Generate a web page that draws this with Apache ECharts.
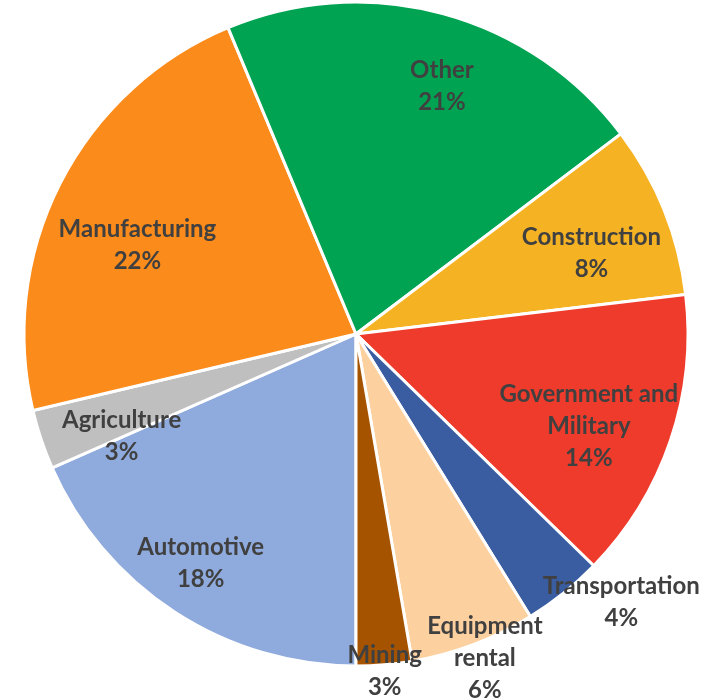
<!DOCTYPE html>
<html>
<head>
<meta charset="utf-8">
<script src="https://cdn.jsdelivr.net/npm/echarts@6/dist/echarts.min.js"></script>
<style>
  html, body { margin: 0; padding: 0; background: #fff; }
  #chart { width: 723px; height: 698px; }
</style>
</head>
<body>
<div id="chart"></div>
<script>
// slices in drawing order, clockwise from the bottom
const categories = ["Automotive", "Agriculture", "Manufacturing", "Other", "Construction",
  "Government and\nMilitary", "Transportation", "Equipment\nrental", "Mining"];
const shares = [18.4, 2.9, 22.4, 21.0, 8.4, 14.2, 3.9, 6.1, 2.7];
const colors = ["#8FAADC", "#BFBFBF", "#FB8B1A", "#00A352", "#F5B324",
  "#EE3B2B", "#3A5DA2", "#FDD09F", "#A65300"];

// label placement: fraction of radius, and angle tweak (deg) from the slice middle
const labelPlace = [
  [0.834, -1], [0.77, 5], [0.71, 5], [0.79, -4], [0.75, -3],
  [0.755, -3], [1.136, 6], [1.05, 1], [1.02, 0],
];

const CX = 356, CY = 334, R = 332, START = -90;

const total = shares.reduce((a, b) => a + b, 0);
const midAngles = [];
let acc = 0;
shares.forEach(v => {
  const a0 = START - acc / total * 360;
  acc += v;
  const a1 = START - acc / total * 360;
  midAngles.push((a0 + a1) / 2);
});

const chart = echarts.init(document.getElementById("chart"));

chart.setOption({
  animation: false,
  series: [{
    type: "pie",
    center: [CX, CY],
    radius: R,
    startAngle: START,
    clockwise: true,
    avoidLabelOverlap: false,
    silent: true,
    itemStyle: { borderColor: "#fff", borderWidth: 3 },
    label: {
      position: "inside",
      formatter: p => p.name + "\n" + Math.round(p.percent) + "%",
      color: "#404040",
      fontFamily: "Lato",
      fontWeight: "bold",
      fontSize: 24,
      lineHeight: 32,
      align: "center",
    },
    labelLine: { show: false },
    labelLayout: p => {
      const [k, da] = labelPlace[p.dataIndex];
      const a = (midAngles[p.dataIndex] + da) * Math.PI / 180;
      return {
        x: CX + k * R * Math.cos(a),
        y: CY - k * R * Math.sin(a),
        align: "center",
        verticalAlign: "middle",
      };
    },
    data: categories.map((c, i) => ({
      name: c,
      value: shares[i],
      itemStyle: { color: colors[i] },
    })),
  }],
});
</script>
</body>
</html>
